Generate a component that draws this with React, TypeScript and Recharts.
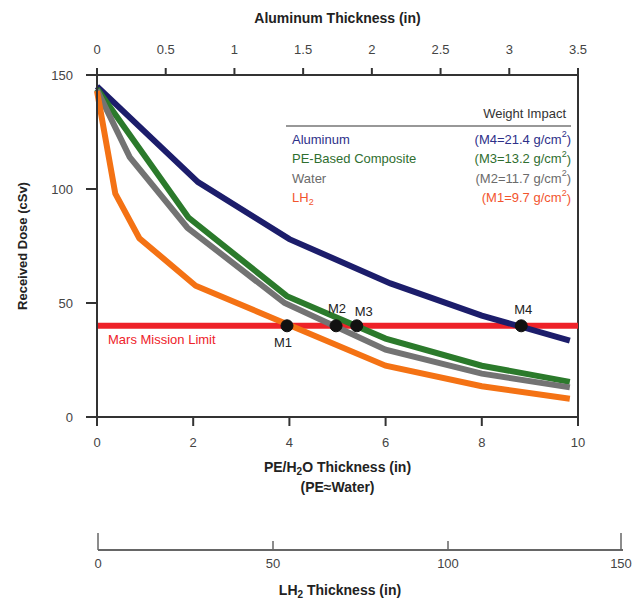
import {
  ComposedChart,
  Line,
  XAxis,
  YAxis,
  ReferenceLine,
  ReferenceDot,
} from 'recharts';

// PE/H2O thickness (in) and received dose (cSv) for each shield
const ALUMINUM_X = [0, 2.1, 4, 6.1, 8, 9.83];
const ALUMINUM_Y = [145, 103, 78, 58.6, 44.5, 33.5];
const PE_X = [0, 1.9, 3.95, 6, 8, 9.83];
const PE_Y = [144, 87.5, 53, 34.4, 22.5, 15.4];
const WATER_X = [0, 0.68, 1.88, 3.9, 6, 8, 9.83];
const WATER_Y = [143.5, 114, 83, 50, 29.5, 19, 13];
const LH2_X = [0, 0.38, 0.88, 2.05, 6, 8, 9.83];
const LH2_Y = [143, 98, 78.4, 57.6, 22.5, 13.5, 8];

const MARS_LIMIT = 40;
const MARKER_NAMES = ['M1', 'M2', 'M3', 'M4'];
const MARKER_X = [3.95, 4.97, 5.4, 8.82];

const PE_TICKS = [0, 2, 4, 6, 8, 10];
const DOSE_TICKS = [0, 50, 100, 150];
const AL_TICKS = [0, 0.5, 1, 1.5, 2, 2.5, 3, 3.5];
const LH2_TICKS = [0, 50, 100, 150];

const LEGEND_NAMES = ['Aluminum', 'PE-Based Composite', 'Water', 'LH'];
const LEGEND_IMPACT = ['M4=21.4', 'M3=13.2', 'M2=11.7', 'M1=9.7'];

const LINE_COLORS = ['#1c1d6b', '#2b7a2b', '#737373', '#f47214'];
const TEXT_COLORS = ['#2e3089', '#2f6e2f', '#6b6b6b', '#f2552e'];
const RED = '#ee2229';
const AXIS = '#333';
const TICK = '#444';
const FONT = '"Liberation Sans", Arial, sans-serif';

const toPoints = (xs: number[], ys: number[]) => xs.map((x, i) => ({ x, y: ys[i] }));

const SERIES = [
  { name: 'Aluminum', data: toPoints(ALUMINUM_X, ALUMINUM_Y) },
  { name: 'PE-Based Composite', data: toPoints(PE_X, PE_Y) },
  { name: 'Water', data: toPoints(WATER_X, WATER_Y) },
  { name: 'LH2', data: toPoints(LH2_X, LH2_Y) },
];

const tickStyle = { fill: TICK, fontSize: 13, fontFamily: FONT };

// label offsets for the mission markers (dx, dy from the dot)
const MARKER_OFFSETS = [
  [-4, 17],
  [1, -17],
  [7, -14],
  [2, -16],
];

function markerLabel(name: string, dx: number, dy: number) {
  return (props: any) => {
    const vb = props.viewBox || {};
    const cx = vb.x + (vb.width || 0) / 2;
    const cy = vb.y + (vb.height || 0) / 2;
    return (
      <text
        x={cx + dx}
        y={cy + dy}
        textAnchor="middle"
        dominantBaseline="central"
        fill="#222"
        fontSize={13}
        fontFamily={FONT}
      >
        {name}
      </text>
    );
  };
}

function LH2Tick(props: any) {
  const { x, y, payload, index } = props;
  const isEnd = index === 0 || index === LH2_TICKS.length - 1;
  return (
    <g>
      <line x1={x} x2={x} y1={y} y2={y - (isEnd ? 17 : 9)} stroke="#666" strokeWidth={1.5} />
      <text x={x} y={y + 13} textAnchor="middle" dominantBaseline="central" {...tickStyle}>
        {payload.value}
      </text>
    </g>
  );
}

function Legend() {
  return (
    <svg
      width={633}
      height={599}
      style={{ position: 'absolute', left: 0, top: 0, pointerEvents: 'none' }}
    >
      <text x={566} y={113} textAnchor="end" dominantBaseline="central" fill="#333" fontSize={13} fontFamily={FONT}>
        Weight Impact
      </text>
      <line x1={286} x2={571} y1={126} y2={126} stroke="#333" strokeWidth={1.2} />
      {LEGEND_NAMES.map((n, i) => (
        <g key={n} fontSize={13} fontFamily={FONT} fill={TEXT_COLORS[i]}>
          <text x={292} y={139 + i * 19.5} dominantBaseline="central">
            {n}
            {n === 'LH' && (
              <tspan fontSize={9} dy={4}>2</tspan>
            )}
          </text>
          <text x={571} y={139 + i * 19.5} textAnchor="end" dominantBaseline="central">
            ({LEGEND_IMPACT[i]} g/cm
            <tspan fontSize={9} dy={-5}>2</tspan>
            <tspan dy={5}>)</tspan>
          </text>
        </g>
      ))}
    </svg>
  );
}

export default function App() {
  return (
    <div style={{ position: 'absolute', left: 0, top: 0, width: 633, height: 599, background: '#fff' }}>
      <ComposedChart
        width={633}
        height={599}
        margin={{ top: 30, right: 55, bottom: 0, left: 0 }}
        style={{ position: 'absolute', left: 0, top: 0 }}
      >
        <XAxis
          xAxisId="pe"
          dataKey="x"
          type="number"
          domain={[0, 10]}
          ticks={PE_TICKS}
          height={182}
          tickSize={9}
          tickMargin={12}
          stroke={AXIS}
          strokeWidth={2}
          tick={tickStyle}
          allowDuplicatedCategory={false}
          label={(p: any) => {
            const vb = p.viewBox;
            const cx = vb.x + vb.width / 2;
            return (
              <g fontFamily={FONT} fontWeight="bold" fontSize={14} fill="#222" textAnchor="middle">
                <text x={cx} y={vb.y + 50} dominantBaseline="central">
                  PE/H<tspan fontSize={10} dy={4}>2</tspan>
                  <tspan dy={-4}>O Thickness (in)</tspan>
                </text>
                <text x={cx} y={vb.y + 70} dominantBaseline="central">
                  (PE≈Water)
                </text>
              </g>
            );
          }}
        />
        <XAxis
          xAxisId="al"
          dataKey="x"
          orientation="top"
          type="number"
          domain={[0, 3.5]}
          ticks={AL_TICKS}
          height={45}
          tickSize={7}
          tickMargin={14}
          stroke={AXIS}
          strokeWidth={2}
          tick={tickStyle}
          includeHidden
          label={(p: any) => {
            const vb = p.viewBox;
            return (
              <text
                x={vb.x + vb.width / 2}
                y={18}
                textAnchor="middle"
                dominantBaseline="central"
                fontFamily={FONT}
                fontWeight="bold"
                fontSize={14}
                fill="#222"
              >
                Aluminum Thickness (in)
              </text>
            );
          }}
        />
        <YAxis
          type="number"
          domain={[0, 150]}
          ticks={DOSE_TICKS}
          width={97}
          tickSize={11}
          tickMargin={13}
          stroke={AXIS}
          strokeWidth={2}
          tick={tickStyle}
          label={(p: any) => {
            const vb = p.viewBox;
            const cy = vb.y + vb.height / 2;
            return (
              <text
                x={22}
                y={cy}
                transform={`rotate(-90 22 ${cy})`}
                textAnchor="middle"
                dominantBaseline="central"
                fontFamily={FONT}
                fontWeight="bold"
                fontSize={13}
                fill="#222"
              >
                Received Dose (cSv)
              </text>
            );
          }}
        />
        {/* hidden series so the aluminum axis gets a domain */}
        <Line
          xAxisId="al"
          data={AL_TICKS.map((t) => ({ x: t, y: 0 }))}
          dataKey="y"
          hide
          dot={false}
          isAnimationActive={false}
        />
        <ReferenceLine xAxisId="pe" x={10} stroke={AXIS} strokeWidth={2} />
        <ReferenceLine
          xAxisId="pe"
          y={MARS_LIMIT}
          stroke={RED}
          strokeWidth={6}
          label={(p: any) => {
            const vb = p.viewBox;
            return (
              <text
                x={vb.x + 11}
                y={vb.y + 14}
                dominantBaseline="central"
                fill={RED}
                fontSize={13}
                fontFamily={FONT}
              >
                Mars Mission Limit
              </text>
            );
          }}
        />
        {SERIES.map((s, i) => (
          <Line
            key={s.name}
            xAxisId="pe"
            data={s.data}
            dataKey="y"
            name={s.name}
            type="linear"
            stroke={LINE_COLORS[i]}
            strokeWidth={6}
            dot={false}
            isAnimationActive={false}
          />
        ))}
        {MARKER_NAMES.map((m, i) => (
          <ReferenceDot
            key={m}
            xAxisId="pe"
            x={MARKER_X[i]}
            y={MARS_LIMIT}
            r={6}
            fill="#111"
            stroke="#111"
            label={markerLabel(m, MARKER_OFFSETS[i][0], MARKER_OFFSETS[i][1])}
          />
        ))}
      </ComposedChart>

      <ComposedChart
        width={633}
        height={79}
        margin={{ top: 0, right: 10, bottom: 0, left: 98 }}
        style={{ position: 'absolute', left: 0, top: 520 }}
        data={LH2_TICKS.map((t) => ({ t }))}
      >
        <XAxis
          dataKey="t"
          type="number"
          domain={[0, 150]}
          ticks={LH2_TICKS}
          height={49}
          tickSize={0}
          tickMargin={0}
          tickLine={false}
          stroke="#666"
          strokeWidth={2}
          tick={<LH2Tick />}
          label={(p: any) => {
            const vb = p.viewBox;
            return (
              <text
                x={340}
                y={vb.y + 40}
                textAnchor="middle"
                dominantBaseline="central"
                fontFamily={FONT}
                fontWeight="bold"
                fontSize={14}
                fill="#222"
              >
                LH<tspan fontSize={10} dy={4}>2</tspan>
                <tspan dy={-4}> Thickness (in)</tspan>
              </text>
            );
          }}
        />
        <YAxis hide domain={[0, 1]} />
      </ComposedChart>
      <Legend />
    </div>
  );
}
